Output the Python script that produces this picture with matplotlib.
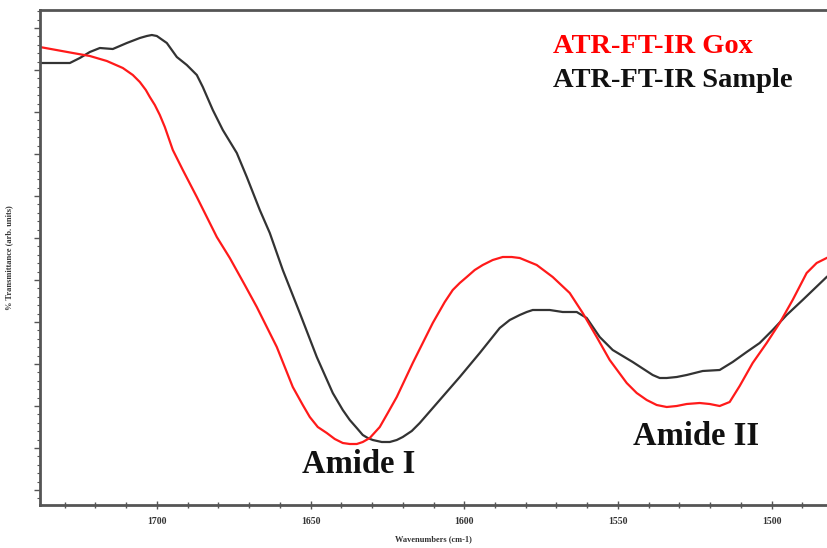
import numpy as np
import matplotlib
matplotlib.use("Agg")
import matplotlib.pyplot as plt
from matplotlib.ticker import MultipleLocator

# ---- data (wavenumber in cm-1, transmittance in arbitrary units) ----
def wn(px):
    return 1700 - (px - 157) / 3.075

def tr(py):
    return (490 - py) / 4.2

gox_px = [40, 73, 90, 107, 123, 133, 140, 146, 150, 155, 160, 165, 173, 183, 197, 207, 217, 230,
          245, 257, 277, 293, 303, 310, 318, 327, 335, 343, 350, 357, 363, 370, 380, 388, 397, 413,
          433, 445, 453, 460, 467, 475, 483, 493, 503, 512, 520, 537, 553, 570, 583, 597, 610,
          627, 637, 647, 657, 667, 677, 687, 700, 710, 720, 730, 740, 753, 767, 780, 793, 807,
          817, 827]
gox_py = [47, 53, 56, 61, 68, 75, 82, 90, 97, 105, 115, 127, 150, 170, 197, 217, 237, 258,
          285, 307, 347, 387, 405, 417, 427, 433, 439, 443, 444, 444, 442, 438, 427, 413, 397, 363,
          323, 302, 290, 283, 277, 270, 265, 260, 257, 257, 258, 265, 277, 293, 313, 337, 360,
          383, 393, 400, 405, 407, 406, 404, 403, 404, 406, 402, 386, 363, 343, 323, 300, 273,
          263, 258]

sample_px = [40, 60, 70, 80, 90, 100, 113, 127, 140, 147, 152, 157, 167, 177, 187,
             197, 203, 213, 223, 237, 247, 260, 270, 283, 300, 317, 333, 343, 350, 357,
             363, 368, 373, 382, 390, 397, 403, 412, 420, 440, 460, 480, 500, 510, 520, 527,
             533, 550, 563, 577, 587, 600, 613, 633, 653, 660, 667, 677, 687, 703, 720, 733,
             747, 760, 773, 787, 803, 827]
sample_py = [63, 63, 63, 58, 52, 48, 49, 43, 38, 36, 35, 36, 43, 57, 65,
             75, 87, 110, 130, 153, 177, 210, 233, 270, 313, 357, 393, 410, 420, 428,
             435, 438, 440, 442, 442, 440, 437, 431, 423, 400, 377, 353, 328, 320, 315, 312,
             310, 310, 312, 312, 318, 337, 350, 362, 375, 378, 378, 377, 375, 371, 370, 362,
             352, 343, 330, 315, 300, 277]

gox_x = [wn(p) for p in gox_px]
gox_y = [tr(p) for p in gox_py]
sample_x = [wn(p) for p in sample_px]
sample_y = [tr(p) for p in sample_py]

xticks = [1700, 1650, 1600, 1550, 1500]

# ---- figure ----
fig = plt.figure(figsize=(8.27, 5.48), dpi=100)
ax = fig.add_axes([40 / 827, 43 / 548, 787 / 827, 495 / 548])

ax.plot(sample_x, sample_y, color="#333333", lw=1.6)
ax.plot(gox_x, gox_y, color="#ff1a1a", lw=1.6)

ax.set_xlim(1738, 1482)
ax.set_ylim(tr(505), tr(10))

ax.set_xticks(xticks)
ax.set_xticklabels([str(t) for t in xticks], fontsize=7, family="Liberation Serif",
                   fontweight="bold", color="#333333")
ax.xaxis.set_minor_locator(MultipleLocator(10))
ax.yaxis.set_major_locator(MultipleLocator(10))
ax.yaxis.set_minor_locator(MultipleLocator(2))
ax.set_yticklabels([])
ax.tick_params(axis="x", which="major", direction="inout", length=6, width=1, color="#555555", pad=6)
ax.tick_params(axis="x", which="minor", direction="inout", length=4, width=1, color="#555555")
ax.tick_params(axis="y", which="major", direction="out", length=4, width=1, color="#555555")
ax.tick_params(axis="y", which="minor", direction="out", length=2, width=0.8, color="#555555")

for s in ["top", "bottom", "left"]:
    ax.spines[s].set_color("#555555")
    ax.spines[s].set_linewidth(2)
ax.spines["right"].set_visible(False)

ax.set_xlabel("Wavenumbers (cm-1)", fontsize=6, family="Liberation Serif",
              fontweight="bold", color="#333333", labelpad=6)
ax.set_ylabel("% Transmittance (arb. units)", fontsize=6, family="Liberation Serif",
              fontweight="bold", color="#333333", labelpad=12)

ax.text(wn(553), tr(53), "ATR-FT-IR Gox", color="#ff0000",
        fontsize=20.5, family="Liberation Serif", fontweight="bold", va="baseline", ha="left")
ax.text(wn(553), tr(87), "ATR-FT-IR Sample", color="#111111",
        fontsize=20.5, family="Liberation Serif", fontweight="bold", va="baseline", ha="left")

ax.text(wn(359), tr(473), "Amide I", color="#111111", fontsize=23.5,
        family="Liberation Serif", fontweight="bold", ha="center", va="baseline")
ax.text(wn(696), tr(445), "Amide II", color="#111111", fontsize=23.5,
        family="Liberation Serif", fontweight="bold", ha="center", va="baseline")

fig.savefig("out.png", dpi=100)
